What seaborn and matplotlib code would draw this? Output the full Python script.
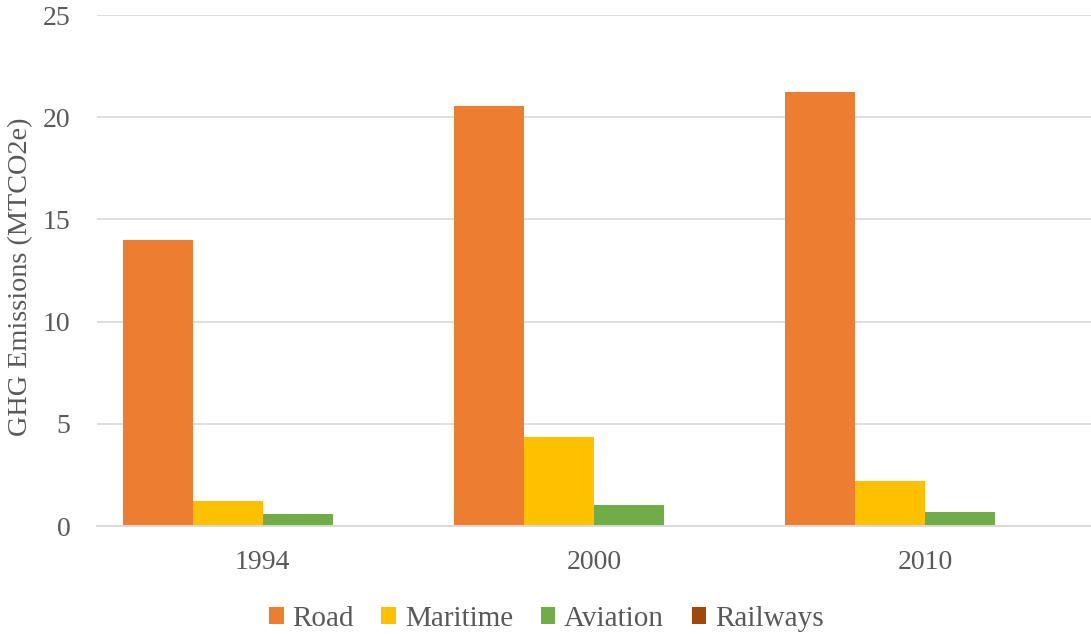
import pandas as pd
import matplotlib.pyplot as plt
import seaborn as sns

# Data
years = ["1994", "2000", "2010"]
modes = ["Road", "Maritime", "Aviation", "Railways"]
road = [14.0, 20.55, 21.23]
maritime = [1.22, 4.35, 2.2]
aviation = [0.59, 1.03, 0.68]
railways = [0.0, 0.0, 0.0]

colors = ["#ED7D31", "#FFC000", "#70AD47", "#9E480E"]

df = pd.DataFrame({
    "Year": years * 4,
    "Mode": [m for m in modes for _ in years],
    "Emissions": road + maritime + aviation + railways,
})

sns.set_style("white")
plt.rcParams["font.family"] = ["Liberation Serif", "DejaVu Serif"]

fig = plt.figure(figsize=(10.91, 6.34), dpi=100)
ax = fig.add_axes([0.0889, 0.1703, 0.9111, 0.8060])

sns.barplot(data=df, x="Year", y="Emissions", hue="Mode", palette=colors,
            width=0.846, saturation=1, linewidth=0, ax=ax, legend=True)

ax.set_ylim(0, 25)
ax.set_xlim(-0.5, 2.5)
ax.set_yticks([0, 5, 10, 15, 20, 25])
ax.yaxis.grid(True, color="#D9D9D9", linewidth=1.2)
ax.set_axisbelow(True)
for s in ["top", "right", "left"]:
    ax.spines[s].set_visible(False)
ax.spines["bottom"].set_color("#D9D9D9")
ax.spines["bottom"].set_linewidth(1.4)
ax.tick_params(axis="both", length=0, labelsize=20, colors="#595959")
ax.tick_params(axis="x", pad=17)
ax.tick_params(axis="y", pad=19)
ax.set_xlabel("")
ax.set_ylabel("GHG Emissions (MTCO2e)", fontsize=20.3, color="#595959")
ax.yaxis.set_label_coords(-0.064, 0.487)

handles, labels = ax.get_legend_handles_labels()
ax.legend(handles, labels, loc="center", bbox_to_anchor=(0.452, -0.182),
          ncol=4, frameon=False, fontsize=21, handlelength=0.5, handleheight=0.5,
          handletextpad=0.3, columnspacing=0.95, labelcolor="#595959")

fig.savefig("out.png", dpi=100)
